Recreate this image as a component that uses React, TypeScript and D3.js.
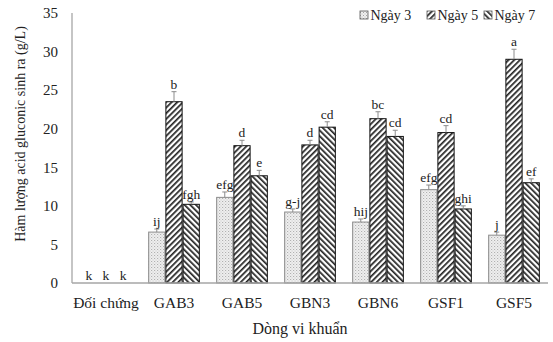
import React from "react";
import * as d3 from "d3";

const categories = ["Đối chứng", "GAB3", "GAB5", "GBN3", "GBN6", "GSF1", "GSF5"];
const seriesNames = ["Ngày 3", "Ngày 5", "Ngày 7"];
const day3 = [0, 6.6, 11.1, 9.2, 7.9, 12.1, 6.2];
const day5 = [0, 23.5, 17.8, 17.9, 21.3, 19.5, 29.0];
const day7 = [0, 10.2, 13.9, 20.2, 19.0, 9.6, 13.0];
const err3 = [0, 0.4, 0.7, 0.4, 0.4, 0.6, 0.4];
const err5 = [0, 1.3, 0.7, 0.6, 0.9, 0.9, 1.3];
const err7 = [0, 0.3, 0.7, 0.7, 0.8, 0.4, 0.5];
const let3 = ["k", "ij", "efg", "g-j", "hij", "efg", "j"];
const let5 = ["k", "b", "d", "d", "bc", "cd", "a"];
const let7 = ["k", "fgh", "e", "cd", "cd", "ghi", "ef"];
const yTicks = [0, 5, 10, 15, 20, 25, 30, 35];

const values = [day3, day5, day7];
const errors = [err3, err5, err7];
const letters = [let3, let5, let7];
const patternIds = ["pDots", "pFwd", "pBack"];

const W = 553;
const H = 342;
const margin = { left: 72, right: 5, top: 13, bottom: 59 };
const font = "'Liberation Serif', 'Times New Roman', serif";

export default function App() {
  const x0 = d3
    .scaleBand<string>()
    .domain(categories)
    .range([margin.left, 548])
    .paddingInner(0.24)
    .paddingOuter(0.12);
  const x1 = d3
    .scaleBand<string>()
    .domain(seriesNames)
    .range([0, x0.bandwidth()]);
  const y = d3.scaleLinear().domain([0, 35]).range([283, 13]);

  const legendX = [360, 427, 484];

  return (
    <svg width={W} height={H} style={{ position: "absolute", left: 0, top: 0 }}>
      <defs>
        <pattern id="pDots" width="3" height="3" patternUnits="userSpaceOnUse">
          <rect width="3" height="3" fill="#f0f0f0" />
          <rect x="0" y="0" width="1" height="1" fill="#a5a5a5" />
          <rect x="1.5" y="1.5" width="1" height="1" fill="#bdbdbd" />
        </pattern>
        <pattern id="pFwd" width="4" height="4" patternUnits="userSpaceOnUse" patternTransform="rotate(45)">
          <rect width="4" height="4" fill="#fff" />
          <rect width="1.7" height="4" fill="#222" />
        </pattern>
        <pattern id="pBack" width="4" height="4" patternUnits="userSpaceOnUse" patternTransform="rotate(-45)">
          <rect width="4" height="4" fill="#fff" />
          <rect width="1.7" height="4" fill="#222" />
        </pattern>
      </defs>

      {/* trục y */}
      <line x1={margin.left} x2={margin.left} y1={y(35)} y2={y(0)} stroke="#a6a6a6" strokeWidth={1.3} />
      {yTicks.map((t) => (
        <text key={t} x={58} y={y(t)} dy="0.35em" textAnchor="end" fontFamily={font} fontSize={15} fill="#222">
          {t}
        </text>
      ))}

      {/* các cột */}
      {categories.map((c, i) => (
        <g key={c} transform={`translate(${x0(c)},0)`}>
          {seriesNames.map((s, k) => {
            const v = values[k][i];
            const e = errors[k][i];
            const bx = x1(s)!;
            const cx = bx + x1.bandwidth() / 2;
            return (
              <g key={s}>
                {v > 0 && (
                  <rect
                    x={bx + 0.5}
                    y={y(v)}
                    width={x1.bandwidth() - 1}
                    height={y(0) - y(v)}
                    fill={`url(#${patternIds[k]})`}
                    stroke={k === 0 ? "#8c8c8c" : "#111"}
                    strokeWidth={1}
                  />
                )}
                {e > 0 && (
                  <g stroke="#8c8c8c" strokeWidth={1}>
                    <line x1={cx} x2={cx} y1={y(v)} y2={y(v + e)} />
                    <line x1={cx - 2.5} x2={cx + 2.5} y1={y(v + e)} y2={y(v + e)} />
                  </g>
                )}
                <text
                  x={cx}
                  y={y(v + e) - 3}
                  textAnchor="middle"
                  fontFamily={font}
                  fontSize={13.5}
                  fill="#222"
                >
                  {letters[k][i]}
                </text>
              </g>
            );
          })}
        </g>
      ))}

      {/* trục x */}
      <line x1={margin.left} x2={548} y1={y(0)} y2={y(0)} stroke="#a6a6a6" strokeWidth={1.3} />
      {categories.map((c) => (
        <text
          key={c}
          x={x0(c)! + x0.bandwidth() / 2}
          y={303}
          dy="0.35em"
          textAnchor="middle"
          fontFamily={font}
          fontSize={15.5}
          fill="#222"
        >
          {c}
        </text>
      ))}
      <text x={300} y={328} dy="0.35em" textAnchor="middle" fontFamily={font} fontSize={16} fill="#222">
        Dòng vi khuẩn
      </text>
      <text
        transform={`translate(20,${134}) rotate(-90)`}
        dy="0.35em"
        textAnchor="middle"
        fontFamily={font}
        fontSize={14}
        fill="#222"
      >
        Hàm lượng acid gluconic sinh ra (g/L)
      </text>

      {/* chú thích */}
      {seriesNames.map((s, k) => (
        <g key={s} transform={`translate(${legendX[k]},15)`}>
          <rect x={0} y={-4} width={8} height={8} fill={`url(#${patternIds[k]})`} stroke="#555" strokeWidth={0.8} />
          <text x={10.5} y={0} dy="0.35em" fontFamily={font} fontSize={14} fill="#222">
            {s}
          </text>
        </g>
      ))}
    </svg>
  );
}
